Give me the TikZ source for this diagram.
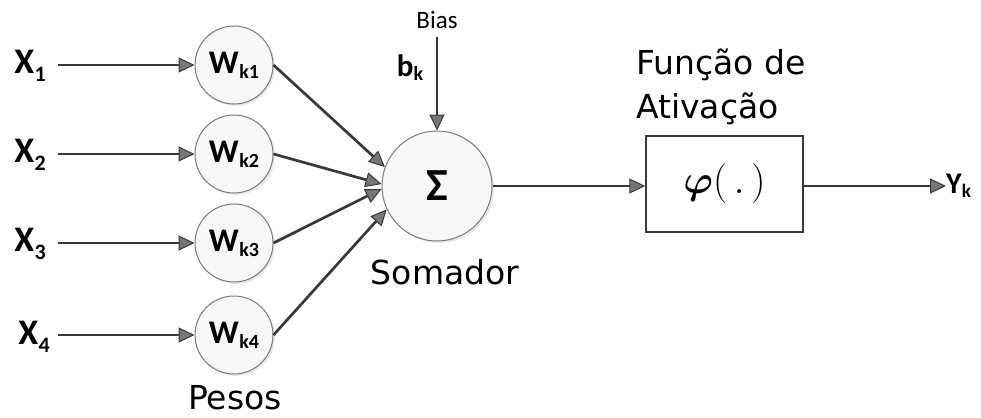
\documentclass[tikz,border=0pt]{standalone}
\usepackage{fontspec}
\usepackage{amsmath,bm}
\setmainfont{DejaVu Sans}
\newfontfamily\carl{Carlito}
\usetikzlibrary{arrows.meta,shadows}
\definecolor{lineC}{HTML}{383838}
\definecolor{circC}{HTML}{7A7A7A}
\definecolor{headC}{HTML}{777777}
\tikzset{
  conn/.style={draw=lineC, line width=2.7pt,
    -{Triangle[length=16pt,width=15pt,fill=headC,line width=1pt]}},
  wc/.style={circle, draw=circC, line width=1pt, fill=gray!6,
    minimum size=78pt, inner sep=0pt,
    drop shadow={opacity=0.18, shadow xshift=2pt, shadow yshift=-2pt}},
  sc/.style={circle, draw=circC, line width=1pt, fill=gray!6,
    minimum size=110pt, inner sep=0pt,
    drop shadow={opacity=0.18, shadow xshift=2pt, shadow yshift=-2pt}},
  fbox/.style={draw=lineC, line width=1.4pt, minimum width=157pt,
    minimum height=96pt, inner sep=0pt},
  lbl/.style={inner sep=0pt, font=\fontsize{33}{33}\selectfont},
  xl/.style={inner sep=0pt, font=\carl\bfseries\fontsize{36}{36}\selectfont},
  wl/.style={font=\carl\bfseries\fontsize{33}{33}\selectfont},
}
\newcommand{\wlab}[1]{W\kern0.5pt\raisebox{-5pt}{\fontsize{20}{20}\selectfont k#1}}
\newcommand{\xlab}[1]{X\kern0.5pt\raisebox{-8pt}{\fontsize{22}{22}\selectfont #1}}
\begin{document}
\begin{tikzpicture}[x=1pt,y=-1pt]
\useasboundingbox (0,0) rectangle (981,417);
% weight circles
\node[wc, wl] (w1) at (234,65) {\wlab{1}};
\node[wc, wl] (w2) at (234,154) {\wlab{2}};
\node[wc, wl] (w3) at (234,243) {\wlab{3}};
\node[wc, wl] (w4) at (234,335) {\wlab{4}};
% inputs
\node[xl] (x1) at (30,66) {\xlab{1}};
\node[xl] (x2) at (30,155) {\xlab{2}};
\node[xl] (x3) at (30,244) {\xlab{3}};
\node[xl] (x4) at (34,337) {\xlab{4}};
\coordinate (x1e) at (58,65);
\coordinate (x2e) at (58,154);
\coordinate (x3e) at (58,243);
\coordinate (x4e) at (58,335);
\draw[conn] (x1e) -- (w1.west);
\draw[conn] (x2e) -- (w2.west);
\draw[conn] (x3e) -- (w3.west);
\draw[conn] (x4e) -- (w4.west);
% summation
\node[sc, font=\carl\bfseries\fontsize{46}{46}\selectfont] (s) at (437,186) {Σ};
\draw[conn] (w1.east) -- (s.160);
\draw[conn] (w2.east) -- (s.178);
\draw[conn] (w3.east) -- (s.183);
\draw[conn] (w4.east) -- (s.205);
% bias
\node[inner sep=0pt, font=\carl\fontsize{25}{25}\selectfont] (bias) at (437,20) {Bias};
\node[inner sep=0pt, font=\carl\bfseries\fontsize{31}{31}\selectfont] (bk) at (410,68) {b\raisebox{-4pt}{\fontsize{20}{20}\selectfont k}};
\coordinate (bt) at (437,37);
\draw[conn] (bt) -- (s.north);
% labels
\node[lbl] (som) at (445,272) {Somador};
\node[lbl] (pes) at (235,398) {Pesos};
\node[lbl, anchor=base west] (fa1) at (636,75) {Função de};
\node[lbl, anchor=base west] (fa2) at (636,118) {Ativação};
% activation box
\node[fbox] (f) at (724.5,184) {\scalebox{1.6}{\fontsize{24.88}{25}\selectfont$\bm{\varphi}(\,.\,)$}};
\draw[conn] (s.east) -- (f.west |- s.east);
\node[inner sep=0pt, anchor=west, font=\carl\bfseries\fontsize{30}{30}\selectfont] (yk) at (946,186) {Y\raisebox{-4pt}{\fontsize{19}{19}\selectfont k}};
\draw[conn] (f.east |- yk.west) -- (yk.west);
\end{tikzpicture}
\end{document}
